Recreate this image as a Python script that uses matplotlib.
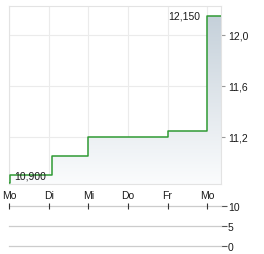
import matplotlib

matplotlib.use("Agg")

import matplotlib.pyplot as plt
import numpy as np
from matplotlib.colors import LinearSegmentedColormap
from matplotlib.patches import Polygon

# day positions (0 = first Monday) and the step price series
day_labels = ["Mo", "Di", "Mi", "Do", "Fr", "Mo"]
times = [0.0, 0.02, 1.08, 2.0, 4.0, 5.0, 5.35]
prices = [10.84, 10.90, 11.05, 11.20, 11.25, 12.15, 12.15]
price_ticks = [11.2, 11.6, 12.0]
price_tick_labels = ["11,2", "11,6", "12,0"]
low_label, high_label = "10,900", "12,150"
volume_ticks = [0, 5, 10]

plt.rcParams["font.family"] = ["Liberation Sans", "DejaVu Sans"]
text_col = "#1a1a1a"
grid_col = "#ebebeb"
fs = 7.5

fig = plt.figure(figsize=(2.64, 2.55), dpi=100)
ax = fig.add_axes([9 / 264, 1 - 185 / 255, 212 / 264, 178 / 255])
vax = fig.add_axes([9 / 264, 1 - 247 / 255, 212 / 264, 40 / 255])

x0, x1 = 0.0, 5.35
y0, y1 = 10.831, 12.227
ax.set_xlim(x0, x1)
ax.set_ylim(y0, y1)

# gradient fill under the step line
sx, sy = [], []
for i in range(len(times)):
    if i > 0:
        sx.append(times[i])
        sy.append(prices[i - 1])
    sx.append(times[i])
    sy.append(prices[i])
poly_pts = [(sx[0], y0)] + list(zip(sx, sy)) + [(sx[-1], y0)]
poly = Polygon(poly_pts, closed=True, facecolor="none", edgecolor="none")
ax.add_patch(poly)
cmap = LinearSegmentedColormap.from_list("fade", ["#fbfcfd", "#c2ced8"])
grad = np.linspace(0, 1, 256).reshape(-1, 1)
im = ax.imshow(grad, cmap=cmap, aspect="auto", origin="lower",
               extent=[x0, x1, y0, y1], zorder=1)
im.set_clip_path(poly)

ax.plot(times, prices, drawstyle="steps-post", color="#2f9a34", lw=1.1, zorder=3)

ax.text(0.13, 10.90, low_label, ha="left", va="center", fontsize=fs, color=text_col, zorder=4)
ax.text(4.83, 12.15, high_label, ha="right", va="center", fontsize=fs, color=text_col, zorder=4)

ax.set_xticks(range(len(day_labels)))
ax.set_xticklabels(day_labels)
ax.set_yticks(price_ticks)
ax.set_yticklabels(price_tick_labels)
ax.yaxis.tick_right()
ax.tick_params(axis="x", length=0, labelsize=fs, colors=text_col, pad=4)
ax.tick_params(axis="y", length=3, width=0.8, color="#999999", labelsize=fs,
               labelcolor=text_col, pad=2)
ax.grid(True, color=grid_col, lw=0.8, zorder=0)
ax.set_axisbelow(True)
for s in ax.spines.values():
    s.set_color("#e3e3e3")
    s.set_linewidth(0.8)

# volume panel
vax.set_xlim(x0, x1)
vax.set_ylim(0, 10)
for v in volume_ticks:
    vax.axhline(v, color="#cccccc", lw=0.9, clip_on=False)
vax.plot(range(len(day_labels)), [10] * len(day_labels), ls="none", marker="|",
         ms=4, mew=0.8, color="#333333", clip_on=False)
vax.set_xticks([])
vax.set_yticks(volume_ticks)
vax.yaxis.tick_right()
vax.tick_params(axis="y", length=4, width=0.8, color="#555555", labelsize=fs,
                labelcolor=text_col, pad=1)
for s in vax.spines.values():
    s.set_visible(False)
vax.patch.set_alpha(0)

fig.savefig("out.png", dpi=100)
